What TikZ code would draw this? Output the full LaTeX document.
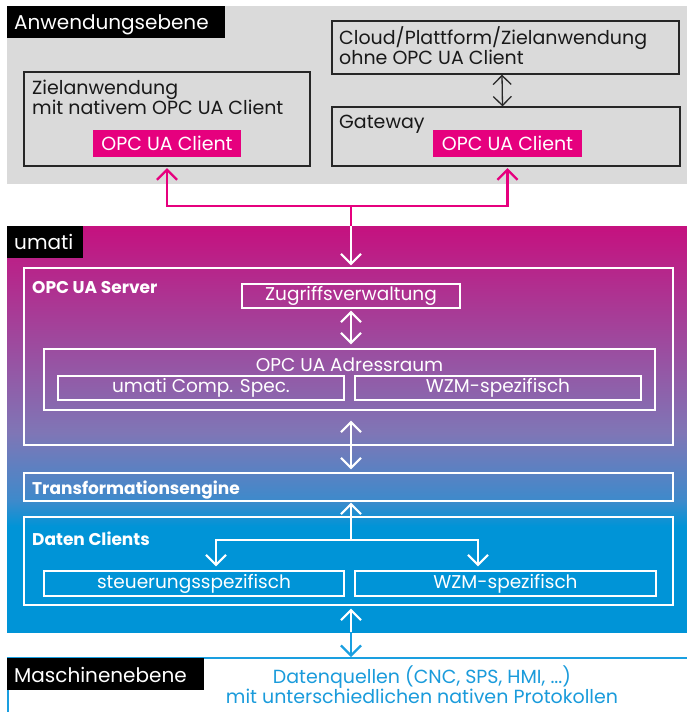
\documentclass[tikz,border=0pt]{standalone}
\usepackage{fontspec}
\setmainfont{Poppins}
\usetikzlibrary{arrows.meta,calc}
\definecolor{gbg}{HTML}{DADADA}
\definecolor{magc}{HTML}{E6007E}
\definecolor{umag}{HTML}{C5117F}
\definecolor{umid}{HTML}{7F76B6}
\definecolor{umid2}{HTML}{3E8ACB}
\definecolor{ublue}{HTML}{0094D7}
\definecolor{mblue}{HTML}{1A9FE0}
\definecolor{tblue}{HTML}{1A9BDB}
\pgfdeclareverticalshading{umatishade}{100bp}{color(0bp)=(ublue); color(25bp)=(ublue); color(38bp)=(ublue); color(41.2bp)=(umid2); color(49.5bp)=(umid); color(75bp)=(umag); color(100bp)=(umag)}
\tikzset{
  mybarb/.tip={Straight Barb[length=10pt,width=20pt]},
  smallbarb/.tip={Straight Barb[length=9pt,width=18pt]},
  graybox/.style={draw=black!85, line width=1.2pt, rectangle, inner sep=0pt},
  clientbox/.style={fill=magc, text=white, rectangle, inner sep=0pt, font=\fontsize{19}{22}\selectfont},
  wbox/.style={draw=white, line width=1.2pt, rectangle, inner sep=0pt, text=white, font=\fontsize{18.5}{22}\selectfont},
  lbl/.style={anchor=base west, inner sep=0pt, font=\fontsize{19}{22}\selectfont, text=black!90},
  blbl/.style={anchor=base west, inner sep=0pt, text=white, font=\fontsize{17}{20}\selectfont\bfseries},
  blacklabel/.style={fill=black, text=white, rectangle, inner sep=0pt, anchor=north west},
  bigtxt/.style={anchor=base west, inner sep=0pt, text=white, font=\fontsize{20}{24}\selectfont},
  bluetxt/.style={inner sep=0pt, anchor=base, text=tblue, font=\fontsize{19}{22}\selectfont},
  magline/.style={draw=magc, line width=2.2pt},
  wline/.style={draw=white, line width=2.2pt},
}
\begin{document}
\begin{tikzpicture}[x=1pt,y=-1pt]
\useasboundingbox (0,0) rectangle (687,712);
% ---------- Anwendungsebene ----------
\fill[gbg] (7,6) rectangle (687,184);
\node[blacklabel, minimum width=218pt, minimum height=32pt] (anwbg) at (7,6) {};
\node[bigtxt] (anw) at (14,29.3) {Anwendungsebene};
\node[graybox, minimum width=286pt, minimum height=94pt] (ziel) at (167,119) {};
\node[lbl] (zieltxta) at (32,94) {Zielanwendung};
\node[lbl] (zieltxtb) at (32,114) {mit nativem OPC UA Client};
\node[clientbox, minimum width=148pt, minimum height=27pt] (client1) at (167,143.5) {OPC UA Client};
\node[graybox, minimum width=347pt, minimum height=53pt] (cloud) at (505.5,47.5) {};
\node[lbl] (cloudtxta) at (339,44) {Cloud/Plattform/Zielanwendung};
\node[lbl] (cloudtxtb) at (339,64.3) {ohne OPC UA Client};
\node[graybox, minimum width=348pt, minimum height=59pt] (gate) at (506,136.5) {};
\node[lbl] (gatetxt) at (339,128) {Gateway};
\node[clientbox, minimum width=149pt, minimum height=27pt] (client2) at (507.5,143.5) {OPC UA Client};
\draw[line width=1.3pt, draw=black!85, {smallbarb}-{smallbarb}] ([xshift=-3.5pt]cloud.south) -- ([xshift=-3.5pt]gate.north);
% magenta connectors
\coordinate (j) at (351,206);
\coordinate (jl) at (client1.south |- j);
\coordinate (jr) at (client2.south |- j);
\draw[magline, {mybarb}-{mybarb}] ([yshift=-11pt]client1.south) -- (jl) -- (jr) -- ([yshift=-11pt]client2.south);
% ---------- umati ----------
\shade[shading=umatishade] (7,226) rectangle (687,632);
\node[blacklabel, minimum width=76pt, minimum height=32pt] (umatibg) at (7,226) {};
\node[bigtxt] (umati) at (14,249) {umati};
\coordinate (bandtop) at (351,226);
\draw[magline] (j) -- (bandtop);
\node[wbox, minimum width=649pt, minimum height=177pt] (server) at (348.5,356.5) {};
\node[blbl] (servertxt) at (32,293) {OPC UA Server};
\node[wbox, minimum width=218pt, minimum height=24pt] (zug) at (351,296) {Zugriffsverwaltung};
\draw[wline, -{mybarb}] (bandtop) -- ([yshift=2pt]bandtop |- server.north);
\node[wbox, minimum width=611pt, minimum height=61pt] (adr) at (349.5,379.5) {};
\node[inner sep=0pt, text=white, font=\fontsize{18.5}{22}\selectfont] (adrtxt) at (349.5,365) {OPC UA Adressraum};
\node[wbox, minimum width=286pt, minimum height=24pt] (ucs) at (201,388) {umati Comp. Spec.};
\node[wbox, minimum width=286pt, minimum height=24pt] (wzm1) at (498,388) {WZM-spezifisch};
\draw[wline, {mybarb}-{mybarb}] ([yshift=-2pt]zug.south) -- ([yshift=4pt]zug.south |- adr.north);
\node[wbox, minimum width=649pt, minimum height=28pt] (trans) at (348.5,487) {};
\node[blbl] (transtxt) at (32,494) {Transformationsengine};
\draw[wline, {mybarb}-{mybarb}] ([yshift=-10pt]zug.south |- adr.south) -- ([yshift=3pt]zug.south |- trans.north);
\node[wbox, minimum width=649pt, minimum height=88pt] (daten) at (348.5,561) {};
\node[blbl] (datentxt) at (32,545) {Daten Clients};
\node[wbox, minimum width=300pt, minimum height=25pt] (steu) at (194,583.5) {steuerungsspezifisch};
\node[wbox, minimum width=301pt, minimum height=25pt] (wzm2) at (505.5,583.5) {WZM-spezifisch};
\coordinate (br) at (351,540);
\coordinate (brl) at (216,540);
\coordinate (brr) at (478,540);
\draw[wline, -{mybarb}] (br) -- ([yshift=-1pt]br |- trans.south);
\draw[wline, {mybarb}-{mybarb}] ([yshift=4pt]brl |- steu.north) -- (brl) -- (brr) -- ([yshift=4pt]brr |- steu.north);
% ---------- Maschinenebene ----------
\coordinate (bandbot) at (351,632);
\coordinate (mtop) at (351,658);
\draw[wline, -{mybarb}] (bandbot) -- ([yshift=-3pt]bandbot |- daten.south);
\draw[mblue, line width=2pt] (7,658) -- (687,658);
\draw[mblue, line width=2.4pt] (8.2,658) -- (8.2,712);
\draw[draw=mblue, line width=2.2pt, -{mybarb}] (bandbot) -- ([yshift=1pt]mtop);
\node[blacklabel, minimum width=197pt, minimum height=32pt] (maschbg) at (7,658) {};
\node[bigtxt] (masch) at (14,682) {Maschinenebene};
\node[bluetxt] (quellena) at (422,683) {Datenquellen (CNC, SPS, HMI, ...)};
\node[bluetxt] (quellenb) at (422,703) {mit unterschiedlichen nativen Protokollen};
\end{tikzpicture}
\end{document}
